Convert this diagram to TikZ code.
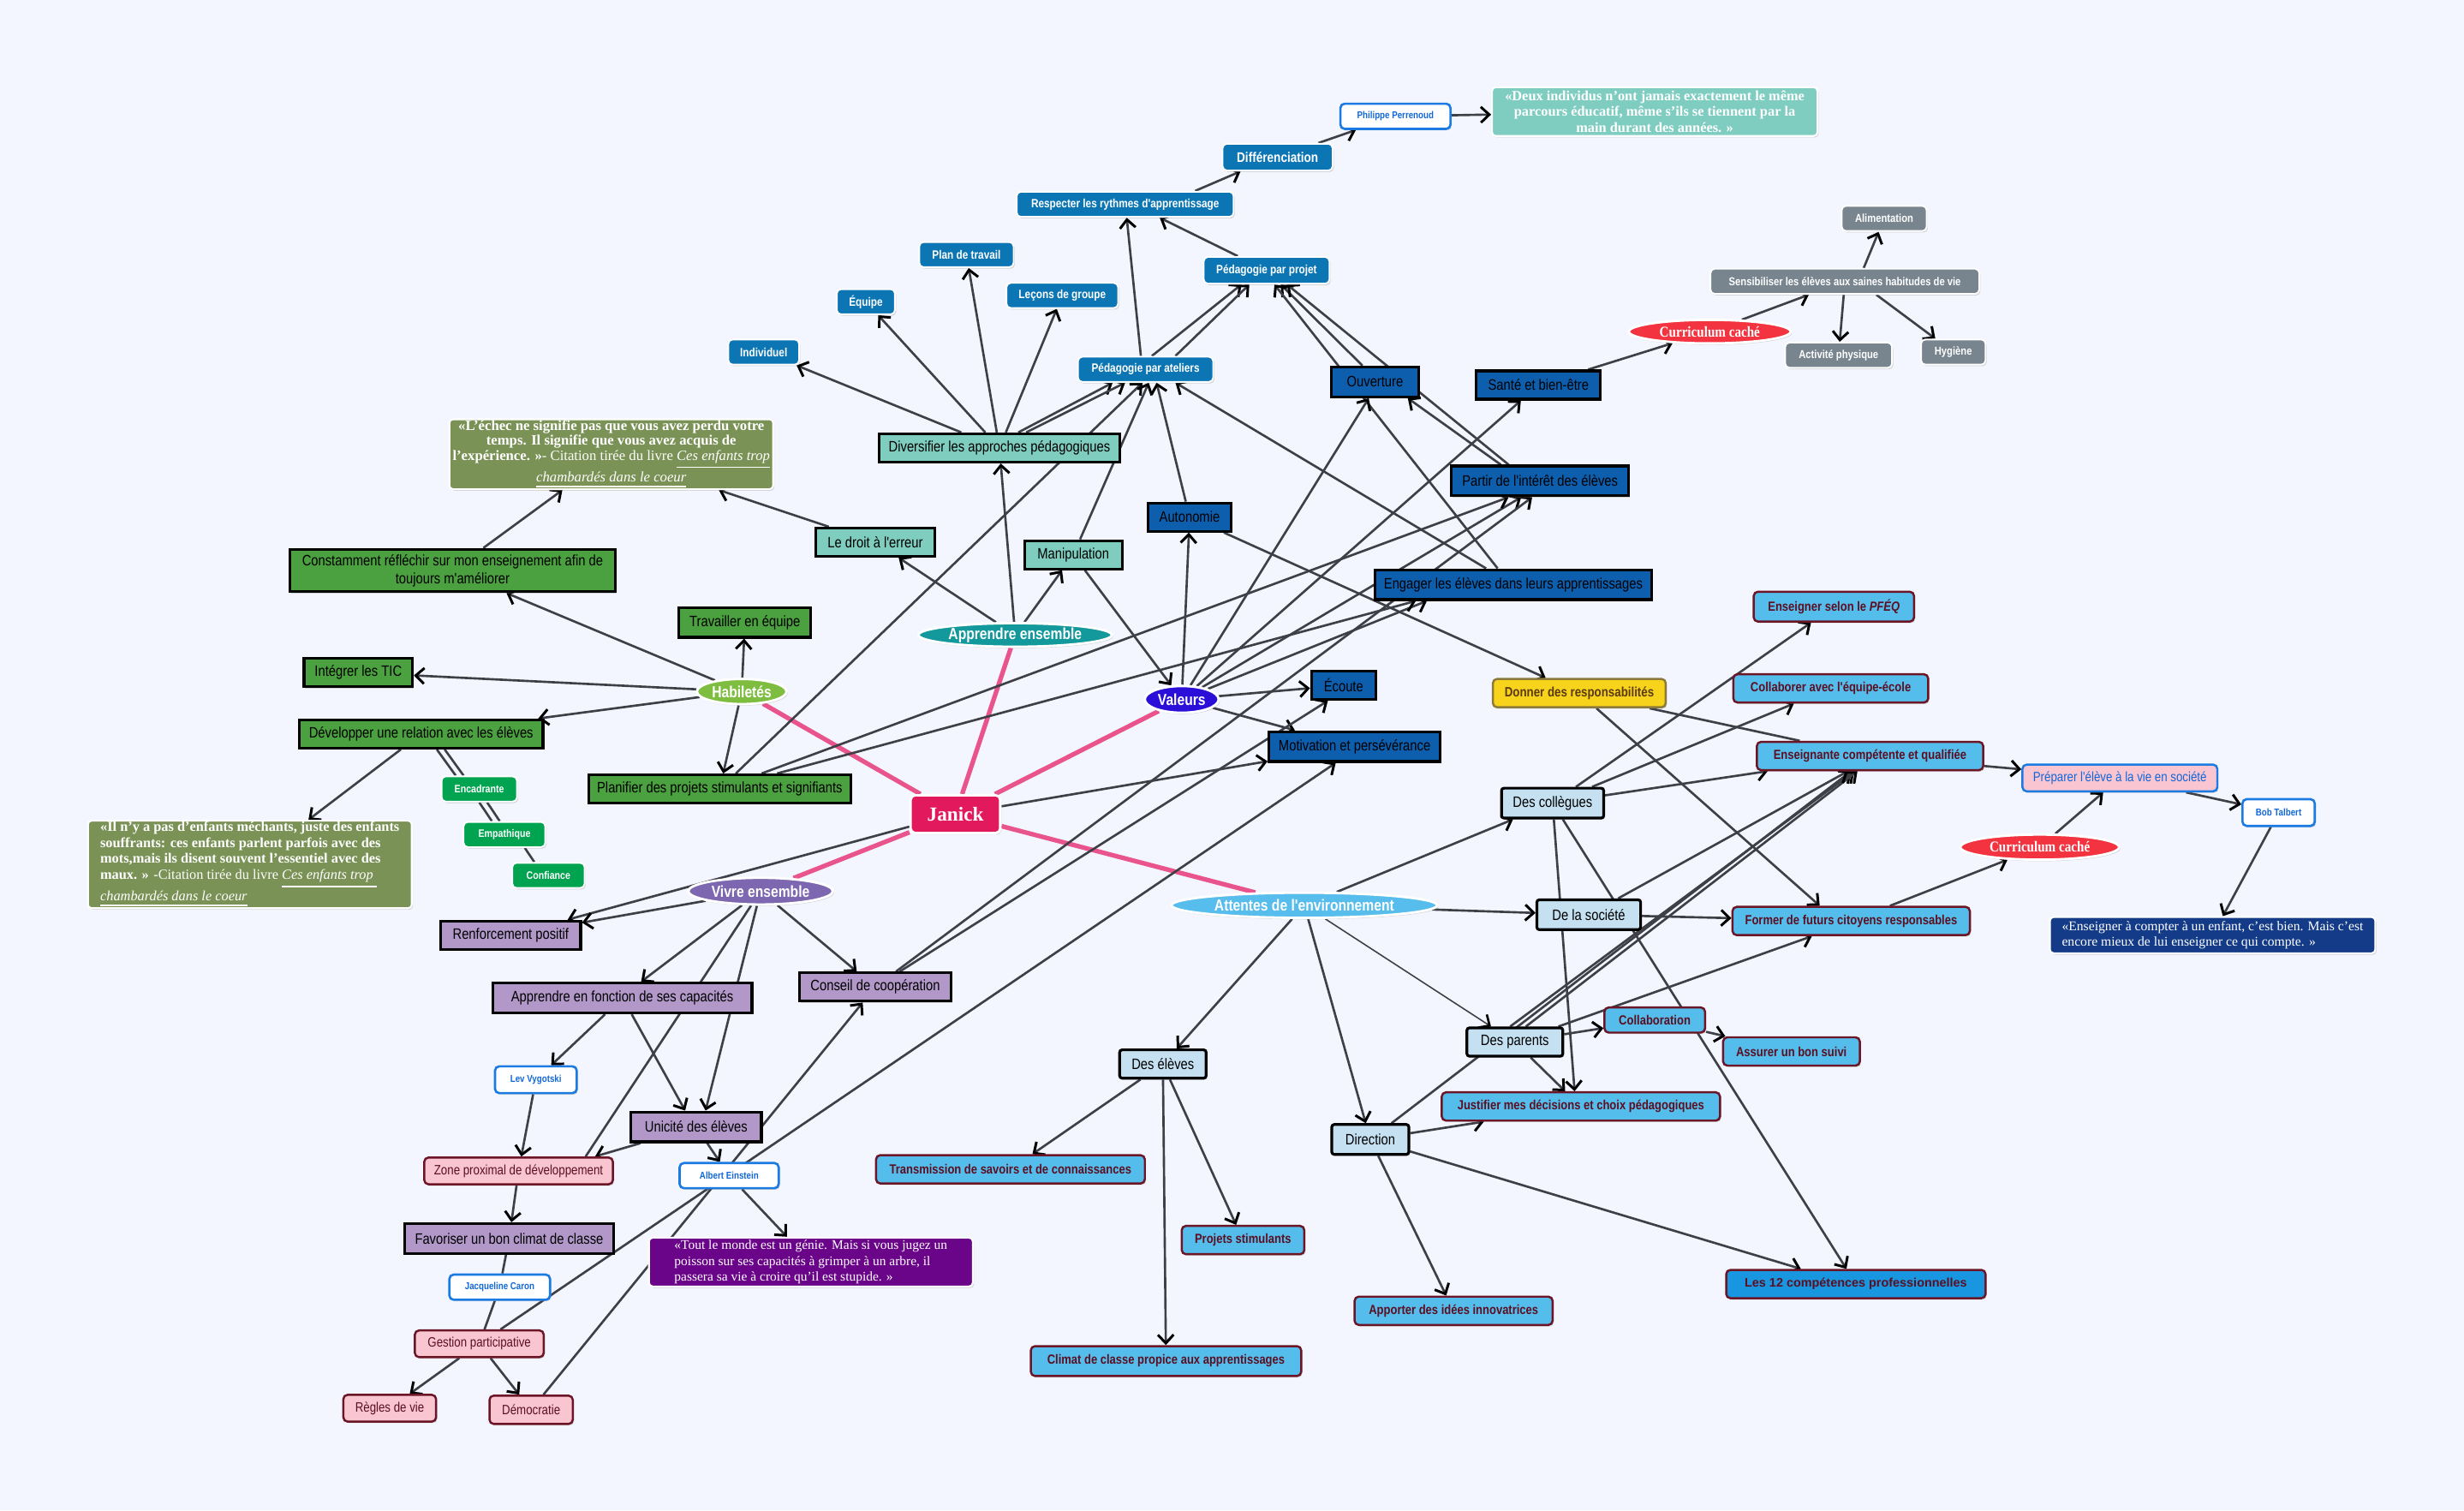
\documentclass[tikz,border=0pt]{standalone}
\usepackage{fontspec}
\setmainfont{Liberation Serif}
\setsansfont{Liberation Sans}
\newfontfamily\nar[FakeStretch=0.84]{Liberation Sans}
\newfontfamily\snar[FakeStretch=0.86]{Liberation Serif}
\usetikzlibrary{shapes.geometric,arrows.meta,shadows,calc}
\pgfdeclarelayer{bg}\pgfdeclarelayer{edges}
\pgfsetlayers{bg,edges,main}
\definecolor{cBg}{HTML}{F3F6FE}
\definecolor{cBtn}{HTML}{0C76B4}
\definecolor{cDark}{HTML}{0E5EAE}
\definecolor{cTeal}{HTML}{7ECDBF}
\definecolor{cGreen}{HTML}{4BA03F}
\definecolor{cGreenT}{HTML}{00A34F}
\definecolor{cGrey}{HTML}{78858F}
\definecolor{cWB}{HTML}{1C7BE2}
\definecolor{cWBt}{HTML}{1268D9}
\definecolor{cPink}{HTML}{F9C5D1}
\definecolor{cMar}{HTML}{6B1526}
\definecolor{cMarT}{HTML}{5B0F22}
\definecolor{cPurple}{HTML}{B198C8}
\definecolor{cLight}{HTML}{C4E0F1}
\definecolor{cCyan}{HTML}{55BDEB}
\definecolor{cLtw}{HTML}{1896E0}
\definecolor{cYel}{HTML}{F8D31C}
\definecolor{cYelB}{HTML}{8C7A3A}
\definecolor{cYelT}{HTML}{5A3A12}
\definecolor{cEllTeal}{HTML}{13989C}
\definecolor{cEllGreen}{HTML}{7EBD40}
\definecolor{cVal}{HTML}{2B0FD8}
\definecolor{cViv}{HTML}{7D67B0}
\definecolor{cAtt}{HTML}{57BDEC}
\definecolor{cRed}{HTML}{F3333F}
\definecolor{cJan}{HTML}{E3195E}
\definecolor{qOlive}{HTML}{7A9256}
\definecolor{qTeal}{HTML}{7FCDC1}
\definecolor{qPur}{HTML}{6A0589}
\definecolor{qNavy}{HTML}{133B87}
\definecolor{cLine}{HTML}{3F3F46}
\definecolor{cPk}{HTML}{E8548B}
\newcommand{\fs}[2]{\fontsize{#1}{#2}\selectfont}
\tikzset{
 sz/.style 2 args={minimum width=#1*0.522pt,minimum height=#2*0.522pt},
 nd/.style={inner sep=0.6pt, align=center, drop shadow={shadow xshift=0.4pt,shadow yshift=-0.5pt,opacity=0.3}},
 bbtn/.style={nd, rectangle, rounded corners=1.4pt, fill=cBtn, draw=white, line width=0.55pt, text=white, font=\nar\bfseries\fs{4}{4.8}},
 dbox/.style={nd, rectangle, fill=cDark, draw=black, line width=0.9pt, text=black, font=\nar\fs{5}{6}},
 tbox/.style={dbox, fill=cTeal},
 gbox/.style={dbox, fill=cGreen},
 vbox/.style={dbox, fill=cPurple},
 lbox/.style={dbox, fill=cLight, rounded corners=0.8pt},
 gtwo/.style={bbtn, fill=cGreenT, font=\nar\bfseries\fs{3.6}{4.3}},
 gry/.style={bbtn, fill=cGrey, font=\nar\bfseries\fs{3.8}{4.5}},
 wbox/.style={nd, rectangle, rounded corners=1.4pt, fill=white, draw=cWB, line width=0.75pt, text=cWBt, font=\nar\bfseries\fs{3.3}{4}},
 pbox/.style={nd, rectangle, rounded corners=1.4pt, fill=cPink, draw=cMar, line width=0.7pt, text=cMarT, font=\nar\fs{4.5}{5.4}},
 cbox/.style={nd, rectangle, rounded corners=1.4pt, fill=cCyan, draw=cMar, line width=0.7pt, text=cMarT, font=\nar\bfseries\fs{4.4}{5.2}},
 ybox/.style={cbox, fill=cYel, draw=cYelB, text=cYelT, font=\nar\bfseries\fs{4.5}{5.4}},
 ell/.style={nd, ellipse, inner sep=0pt, draw=white, line width=0.8pt, text=white, font=\nar\bfseries\fs{5.3}{6}},
 ccell/.style={ell, fill=cRed, font=\snar\bfseries\fs{5}{6}},
 quote/.style={nd, rectangle, rounded corners=1.2pt, draw=white, line width=0.6pt, text=white, inner sep=0.3pt, font=\rmfamily\fs{4.7}{5.2}},
 ed/.style={draw=cLine, line width=0.75pt},
 ar/.style={ed, -{Straight Barb[length=2.8pt,width=5.2pt,line width=0.85pt,color=black]}},
 pk/.style={draw=cPk, line width=1.5pt},
}
\begin{document}
\begin{tikzpicture}[x=0.018348cm,y=-0.018348cm]
\useasboundingbox (0,0) rectangle (1568,961);
\begin{pgfonlayer}{bg}
\fill[cBg] (0,0) rectangle (1568,961);
\end{pgfonlayer}

% ---------- top cluster
\node[wbox, sz={70}{16}] (perr) at (888,74) {Philippe Perrenoud};
\node[quote, fill=qTeal, sz={207}{31}, font=\rmfamily\bfseries\fs{4.65}{5.2}] (qdeux) at (1053,71) {«Deux individus n'ont jamais exactement le même\\parcours éducatif, même s'ils se tiennent par la\\main durant des années. »};
\node[bbtn, sz={70}{17}, font=\nar\bfseries\fs{4.6}{5.5}] (diff) at (813,100) {Différenciation};
\node[bbtn, sz={138}{16}] (resp) at (716,130) {Respecter les rythmes d'apprentissage};
\node[bbtn, sz={80}{17}] (projet) at (806,172) {Pédagogie par projet};
\node[bbtn, sz={60}{16}] (plan) at (615,162) {Plan de travail};
\node[bbtn, sz={71}{16}] (lecons) at (676,188) {Leçons de groupe};
\node[bbtn, sz={37}{16}] (equipe) at (551,192) {Équipe};
\node[bbtn, sz={45}{16}] (indiv) at (486,224) {Individuel};
\node[bbtn, sz={86}{16}] (ateliers) at (729,235) {Pédagogie par ateliers};
\node[dbox, sz={56}{19}] (ouv) at (875,243) {Ouverture};
\node[dbox, sz={79}{18}] (sante) at (979,245) {Santé et bien-être};
\node[ccell, sz={103}{15}] (ccun) at (1088,211) {Curriculum caché};
\node[gry, sz={171}{16}] (sens) at (1174,179) {Sensibiliser les élèves aux saines habitudes de vie};
\node[gry, sz={54}{16}] (alim) at (1199,139) {Alimentation};
\node[gry, sz={68}{16}] (actphys) at (1170,226) {Activité physique};
\node[gry, sz={41}{16}] (hyg) at (1243,224) {Hygiène};
\node[tbox, sz={153}{18}] (divers) at (636,285) {Diversifier les approches pédagogiques};
\node[dbox, sz={113}{19}] (partir) at (980,306) {Partir de l'intérêt des élèves};
\node[quote, fill=qOlive, sz={206}{38}, font=\rmfamily\fs{4.75}{4.95}] (qechec) at (389,289) {\textbf{«L'échec ne signifie pas que vous avez perdu votre}\\\textbf{temps. Il signifie que vous avez acquis de}\\\textbf{l'expérience. »}- Citation tirée du livre \underline{\textit{Ces enfants trop}}\\\underline{\textit{chambardés dans le coeur}}};
\node[tbox, sz={76}{18}] (droit) at (557,345) {Le droit à l'erreur};
\node[dbox, sz={53}{18}] (auton) at (757,329) {Autonomie};
\node[tbox, sz={62}{18}] (manip) at (683,353) {Manipulation};
\node[dbox, sz={176}{19}] (engager) at (963,372) {Engager les élèves dans leurs apprentissages};
\node[gbox, sz={207}{27}] (constam) at (288,363) {Constamment réfléchir sur mon enseignement afin de\\toujours m'améliorer};
\node[gbox, sz={84}{19}] (travail) at (474,396) {Travailler en équipe};
\node[ell, fill=cEllTeal, sz={123}{15}] (appens) at (646,404) {Apprendre ensemble};
\node[gbox, sz={69}{18}] (tic) at (228,428) {Intégrer les TIC};
\node[ell, fill=cEllGreen, sz={57}{16}] (habil) at (472,440) {Habiletés};
\node[ell, fill=cVal, sz={47}{17}] (valeurs) at (752,445) {Valeurs};
\node[dbox, sz={41}{18}] (ecoute) at (855,436) {Écoute};
\node[cbox, sz={102}{19}] (pfeq) at (1167,386) {Enseigner selon le \textit{PFÉQ}};
\node[cbox, sz={124}{18}] (colecole) at (1165,438) {Collaborer avec l'équipe-école};
\node[ybox, sz={110}{18}] (donner) at (1005,441) {Donner des responsabilités};
\node[gbox, sz={155}{18}] (devrel) at (268,467) {Développer une relation avec les élèves};
\node[dbox, sz={109}{19}] (motiv) at (862,475) {Motivation et persévérance};
\node[cbox, sz={144}{18}] (enseign) at (1190,481) {Enseignante compétente et qualifiée};
\node[pbox, draw=cWB, text=cWBt, sz={124}{17}] (prep) at (1349,495) {Préparer l'élève à la vie en société};
\node[gtwo, sz={48}{16}] (encad) at (305,502) {Encadrante};
\node[gbox, sz={167}{18}] (planif) at (458,502) {Planifier des projets stimulants et signifiants};
\node[nd, rectangle, rounded corners=1.5pt, fill=cJan, draw=white, line width=0.8pt, text=white, font=\rmfamily\bfseries\fs{6.6}{8}, sz={57}{24}] (janick) at (608,518) {Janick};
\node[lbox, sz={65}{19}] (colleg) at (988,511) {Des collègues};
\node[wbox, sz={46}{17}] (bob) at (1450,517) {Bob Talbert};
\node[gtwo, sz={52}{16}] (empath) at (321,531) {Empathique};
\node[quote, fill=qOlive, sz={206}{52}, align=left, font=\rmfamily\fs{4.65}{5.3}] (qilnya) at (159,550) {\textbf{«Il n'y a pas d'enfants méchants, juste des enfants}\\\textbf{souffrants: ces enfants parlent parfois avec des}\\\textbf{mots,mais ils disent souvent l'essentiel avec des}\\\textbf{maux. »} -Citation tirée du livre \underline{\textit{Ces enfants trop }}\\\underline{\textit{chambardés dans le coeur}}};
\node[ccell, sz={101}{16}] (ccdeux) at (1298,539) {Curriculum caché};
\node[gtwo, sz={46}{16}] (confi) at (349,557) {Confiance};
\node[ell, fill=cViv, sz={92}{17}] (vivre) at (484,567) {Vivre ensemble};
\node[ell, fill=cAtt, sz={169}{16}] (attentes) at (830,576) {Attentes de l'environnement};
\node[lbox, sz={66}{19}] (societe) at (1011,582) {De la société};
\node[cbox, sz={151}{18}] (former) at (1178,586) {Former de futurs citoyens responsables};
\node[quote, fill=qNavy, sz={207}{23}, align=left, font=\rmfamily\fs{4.45}{5.3}] (qenseign) at (1408,595) {«Enseigner à compter à un enfant, c'est bien. Mais c'est\\encore mieux de lui enseigner ce qui compte. »};
\node[vbox, sz={89}{18}] (renfor) at (325,595) {Renforcement positif};
\node[vbox, sz={165}{19}] (appfonc) at (396,635) {Apprendre en fonction de ses capacités};
\node[vbox, sz={96}{18}] (conseil) at (557,628) {Conseil de coopération};
\node[cbox, sz={64}{16}] (collabor) at (1053,649) {Collaboration};
\node[lbox, sz={61}{18}] (parents) at (964,663) {Des parents};
\node[cbox, sz={87}{18}] (assurer) at (1140,669) {Assurer un bon suivi};
\node[lbox, sz={55}{18}] (deseleves) at (740,677) {Des élèves};
\node[wbox, sz={52}{17}] (lev) at (341,687) {Lev Vygotski};
\node[cbox, sz={177}{18}] (justif) at (1006,704) {Justifier mes décisions et choix pédagogiques};
\node[vbox, sz={83}{19}] (unicite) at (443,717) {Unicité des élèves};
\node[lbox, sz={49}{19}] (direction) at (872,725) {Direction};
\node[pbox, sz={120}{17}] (zone) at (330,745) {Zone proximal de développement};
\node[wbox, sz={63}{16}] (einstein) at (464,748) {Albert Einstein};
\node[cbox, sz={171}{18}] (transm) at (643,744) {Transmission de savoirs et de connaissances};
\node[vbox, sz={133}{19}] (favor) at (324,788) {Favoriser un bon climat de classe};
\node[cbox, sz={78}{18}] (projstim) at (791,789) {Projets stimulants};
\node[quote, fill=qPur, sz={206}{31}, align=left, font=\rmfamily\fs{4.4}{5.2}] (qtout) at (516,803) {«Tout le monde est un génie. Mais si vous jugez un\\poisson sur ses capacités à grimper à un arbre, il\\passera sa vie à croire qu'il est stupide. »};
\node[cbox, fill=cLtw, sz={165}{18}, font=\sffamily\bfseries\fs{4.1}{4.9}] (lesdouze) at (1181,817) {Les 12 compétences professionnelles};
\node[wbox, sz={64}{16}] (jacq) at (318,819) {Jacqueline Caron};
\node[cbox, sz={126}{18}] (apporter) at (925,834) {Apporter des idées innovatrices};
\node[pbox, sz={82}{17}] (gestion) at (305,855) {Gestion participative};
\node[cbox, sz={172}{19}] (climat) at (742,866) {Climat de classe propice aux apprentissages};
\node[pbox, sz={59}{17}] (regles) at (248,896) {Règles de vie};
\node[pbox, sz={53}{18}] (democ) at (338,897) {Démocratie};

\begin{pgfonlayer}{edges}
% pink main links
\draw[pk] (janick) -- (habil);
\draw[pk] (janick) -- (appens);
\draw[pk] (janick) -- (valeurs);
\draw[pk] (janick) -- (vivre);
\draw[pk] (janick) -- (attentes);
% top
\draw[ar] (diff) -- (perr);
\draw[ar] (perr) -- (qdeux);
\draw[ar] ($(resp.north east)+(-25,0)$) -- ($(diff.south west)+(12,0)$);
\draw[ar] ($(ateliers.north)+(-3,0)$) -- ($(resp.south)+(1,0)$);
\draw[ar] (projet) -- ($(resp.south)+(22,0)$);
\draw[ar] ($(ateliers.north)+(4,0)$) -- ($(projet.south)+(-16,0)$);
\draw[ar] ($(ateliers.north)+(19,0)$) -- ($(projet.south)+(-11,0)$);
\draw[ar] ($(ouv.north)+(-8,0)$) -- ($(projet.south)+(9,0)$);
\draw[ar] ($(partir.north)+(-20,0)$) -- ($(projet.south)+(13,0)$);
\draw[ar] ($(engager.north)+(-10,0)$) -- ($(projet.south)+(5,0)$);
\draw[ar] ($(partir.north)+(-25,0)$) -- ($(ouv.south east)+(-8,0)$);
\draw[ar] (valeurs) -- ($(ouv.south)+(-4,0)$);
\draw[ar] (divers) -- (indiv);
\draw[ar] (divers) -- (equipe);
\draw[ar] (divers) -- (plan);
\draw[ar] (divers) -- (lecons);
\draw[ar] ($(divers.north)+(12,0)$) -- ($(ateliers.south)+(-21,0)$);
\draw[ar] ($(divers.north)+(17,0)$) -- ($(ateliers.south)+(-13,0)$);
\draw[ar] (planif) -- ($(ateliers.south)+(-2,0)$);
\draw[ar] (manip) -- ($(ateliers.south)+(2,0)$);
\draw[ar] (auton) -- ($(ateliers.south)+(7,0)$);
\draw[ar] (engager) -- ($(ateliers.south)+(19,0)$);
\draw[ar] (sante) -- (ccun);
\draw[ar] (ccun) -- (sens);
\draw[ar] ($(sens.north)+(12,0)$) -- (alim);
\draw[ar] (sens) -- (actphys);
\draw[ar] ($(sens.south)+(20,0)$) -- (hyg);
% habiletés
\draw[ar] (habil) -- (constam);
\draw[ar] (habil) -- (travail);
\draw[ar] (habil) -- (tic);
\draw[ar] (habil) -- (devrel);
\draw[ar] (habil) -- (planif);
\draw[ar] (constam) -- (qechec);
\draw[ar] (droit) -- (qechec);
\draw[ar] (devrel) -- (qilnya);
\draw[ed] ($(devrel.south)+(10,0)$) -- ($(encad.north)+(-15,0)$);
\draw[ed] ($(devrel.south)+(15,0)$) -- ($(encad.north)+(-10,0)$);
\draw[ed] ($(encad.south)+(0,0)$) -- ($(empath.north)+(-8,0)$);
\draw[ed] ($(encad.south)+(5,0)$) -- ($(empath.north)+(-3,0)$);
\draw[ed] ($(empath.south)+(13,0)$) -- ($(confi.north)+(-9,0)$);
% apprendre ensemble
\draw[ar] (appens) -- (droit);
\draw[ar] (appens) -- (divers);
\draw[ar] (appens) -- (manip);
\draw[ar] (manip) -- (valeurs);
% valeurs
\draw[ar] (valeurs) -- (auton);
\draw[ar] (valeurs) -- (sante);
\draw[ar] (valeurs) -- ($(partir.south)+(-12,0)$);
\draw[ar] (valeurs) -- ($(engager.south)+(-55,0)$);
\draw[ar] (valeurs) -- (ecoute);
\draw[ar] (valeurs) -- (motiv);
\draw[ar] (auton) -- (donner);
\draw[ar] (planif) -- ($(partir.south)+(-20,0)$);
\draw[ar] (planif) -- ($(engager.south)+(-62,0)$);
\draw[ar] (conseil) -- ($(ecoute.south)+(-10,0)$);
\draw[ar] (conseil) -- ($(partir.south)+(-5,0)$);
% janick & vivre ensemble
\draw[ar] (janick) -- (motiv);
\draw[ar] (janick) -- (renfor);
\draw[ar] (vivre) -- (renfor);
\draw[ar] (vivre) -- ($(appfonc.north)+(12,0)$);
\draw[ed] (vivre) -- ($(zone.north east)+(-18,0)$);
\draw[ar] (vivre) -- ($(unicite.north)+(6,0)$);
\draw[ar] (vivre) -- (conseil);
\draw[ar] (appfonc) -- (lev);
\draw[ar] ($(appfonc.south)+(6,0)$) -- ($(unicite.north)+(-7,0)$);
\draw[ar] (lev) -- (zone);
\draw[ar] (unicite) -- ($(zone.north east)+(-12,0)$);
\draw[ar] (unicite) -- (einstein);
\draw[ar] (einstein) -- (qtout);
\draw[ar] (zone) -- (favor);
\draw[ed] (favor) -- (jacq);
\draw[ed] (jacq) -- (gestion);
\draw[ar] (gestion) -- (regles);
\draw[ar] (gestion) -- (democ);
\draw[ar] (democ) -- (conseil);
\draw[ar] (gestion) -- ($(motiv.south)+(-12,0)$);
% attentes
\draw[ar] (attentes) -- (deseleves);
\draw[ar] (attentes) -- (direction);
\draw[draw=cLine, line width=0.45pt, -{Straight Barb[length=2.8pt,width=5.2pt,line width=0.75pt,color=black]}] (attentes) -- (parents);
\draw[ar] (attentes) -- (societe);
\draw[ar] (attentes) -- (colleg);
\draw[ar] (deseleves) -- (transm);
\draw[ar] (deseleves) -- (climat);
\draw[ar] (deseleves) -- (projstim);
\draw[ar] (direction) -- (justif);
\draw[ar] (direction) -- (apporter);
\draw[ar] (direction) -- ($(lesdouze.north)+(-35,0)$);
\draw[ar] (direction) -- ($(enseign.south)+(-12,0)$);
\draw[ar] ($(parents.north)+(-3,0)$) -- ($(enseign.south)+(-10,0)$);
\draw[ar] ($(parents.north)+(7,0)$) -- ($(enseign.south)+(-8,0)$);
\draw[ar] (parents) -- (collabor);
\draw[ar] (parents) -- ($(justif.north)+(-10,0)$);
\draw[ar] (parents) -- ($(former.south)+(-25,0)$);
\draw[ar] (collabor) -- (assurer);
\draw[ar] (societe) -- (former);
\draw[ar] (societe) -- ($(enseign.south)+(-14,0)$);
\draw[ar] (colleg) -- ($(justif.north)+(-4,0)$);
\draw[ar] (colleg) -- ($(lesdouze.north)+(-6,0)$);
\draw[ar] (colleg) -- (enseign);
\draw[ar] (colleg) -- (colecole);
\draw[ar] (colleg) -- (pfeq);
\draw[ed] (donner) -- (enseign);
\draw[ar] (donner) -- ($(former.north)+(-20,0)$);
\draw[ar] (former) -- (ccdeux);
\draw[ar] (ccdeux) -- (prep);
\draw[ar] (enseign) -- (prep);
\draw[ar] (prep) -- (bob);
\draw[ar] (bob) -- (qenseign);
\end{pgfonlayer}
\end{tikzpicture}
\end{document}
